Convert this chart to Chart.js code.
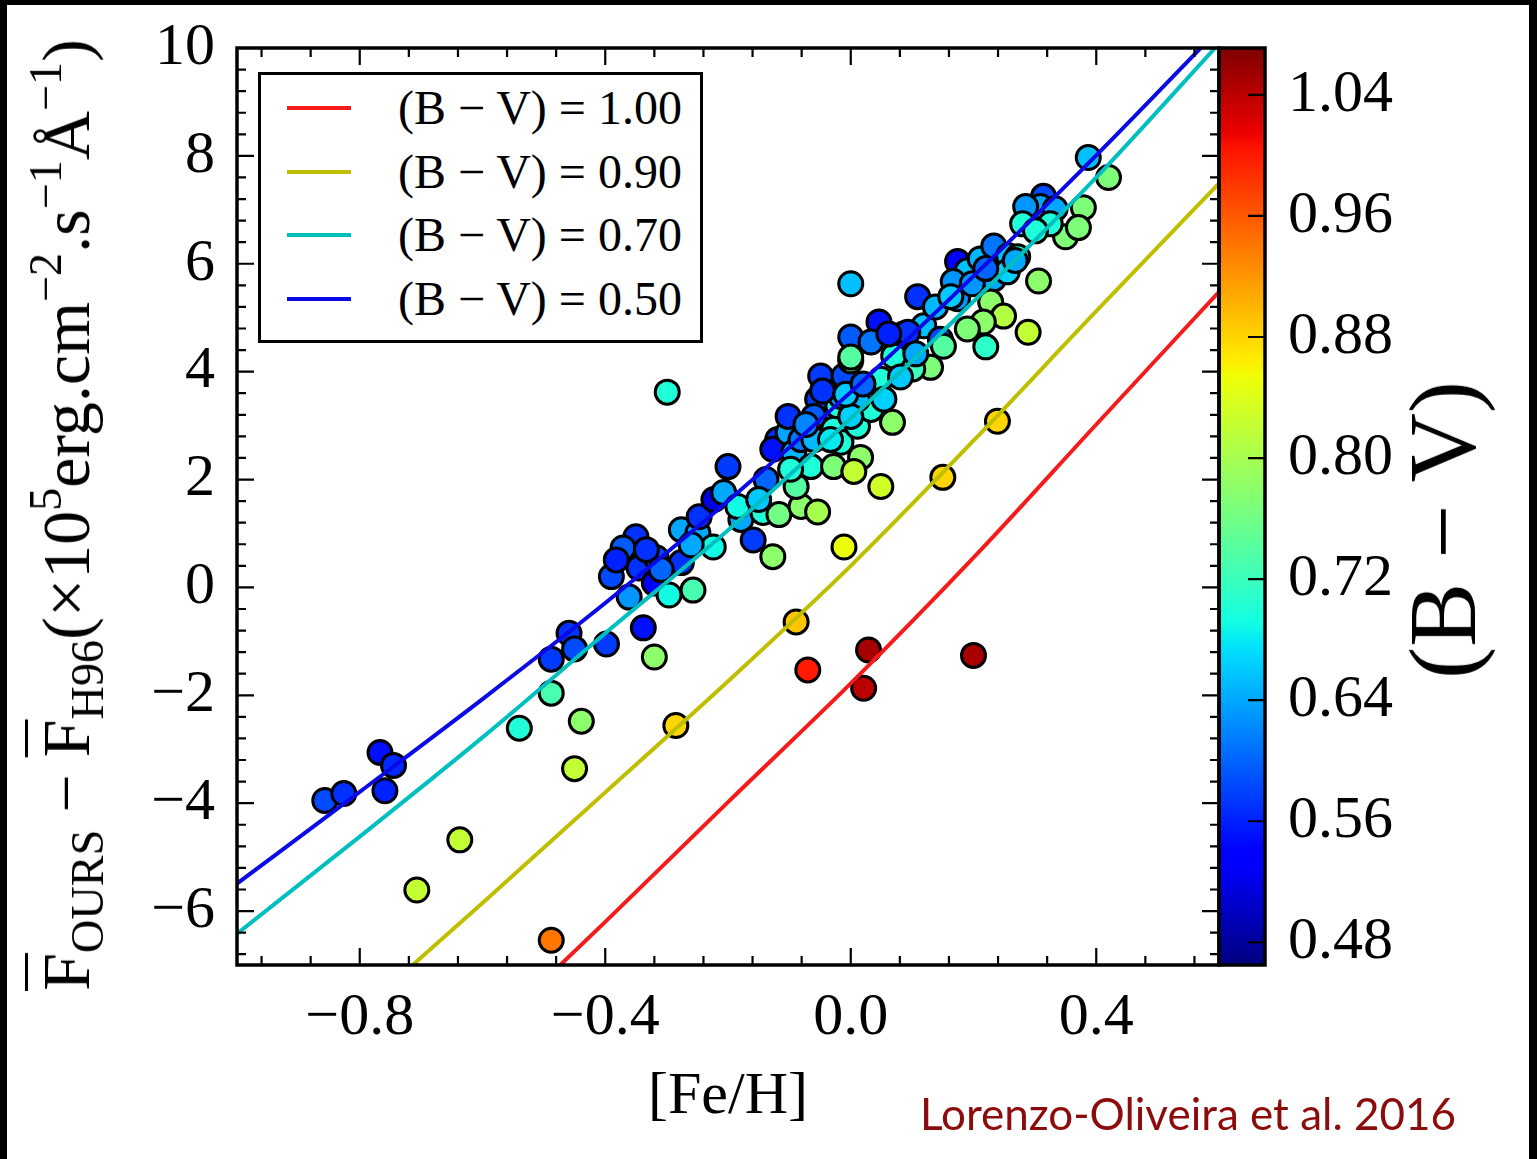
<!DOCTYPE html>
<html>
<head>
<meta charset="utf-8">
<script src="https://cdn.jsdelivr.net/npm/chart.js@4.4.1/dist/chart.umd.min.js"></script>
<style>
html,body{margin:0;padding:0;background:#000;overflow:hidden;}
#wrap{position:relative;width:1537px;height:1159px;background:#000;overflow:hidden;}
#panel{position:absolute;left:7px;top:5px;right:8px;bottom:0;background:#fff;}
#c{position:absolute;left:0;top:0;}
.serif{font-family:"Liberation Serif","Times New Roman",serif;color:#000;}
#ytitle{position:absolute;left:66px;top:515px;transform:translate(-50%,-50%) rotate(-90deg);font-size:68px;white-space:nowrap;line-height:1;}
#ytitle sub,#ytitle sup{font-size:0.68em;line-height:0;}
#ytitle sub{vertical-align:-0.3em;}
#ytitle sup{vertical-align:0.6em;}
.ov{text-decoration:overline;text-decoration-thickness:2.5px;}
#cbtitle{position:absolute;left:1443px;top:530px;transform:translate(-50%,-50%) rotate(-90deg);font-size:96px;white-space:nowrap;line-height:1;}
#legend{position:absolute;left:258px;top:72px;width:445px;height:271px;box-sizing:border-box;border:3px solid #000;background:#fff;}
.lrow{position:absolute;left:0;height:0;width:100%;}
.lline{position:absolute;left:26px;width:64px;height:4px;top:-2px;}
.ltext{position:absolute;left:137px;top:0;font-size:48px;line-height:1;white-space:nowrap;transform:translateY(-50%);}
#credit{position:absolute;left:920px;top:1113px;transform:translateY(-50%);font-family:Lato,"Open Sans",sans-serif;font-size:44px;color:#8c0b0b;white-space:nowrap;line-height:1;}
</style>
</head>
<body>
<div id="wrap">
  <div id="panel"></div>
  <canvas id="c" width="1537" height="1159"></canvas>
  <div id="ytitle" class="serif"><span class="ov">F</span><sub>OURS</sub> − <span class="ov">F</span><sub>H96</sub>(×10<sup>5</sup>erg.cm<sup>−2</sup>.s<sup>−1</sup>Å<sup>−1</sup>)</div>
  <div id="cbtitle" class="serif">(B − V)</div>
  <div id="legend" class="serif"></div>
  <div id="credit">Lorenzo-Oliveira et al. 2016</div>
</div>
<script>
// ---------------- data ----------------
const feH = [-0.857,-0.826,-0.767,-0.745,-0.759,-0.637,-0.707,-0.488,-0.540,-0.488,
-0.439,-0.450,-0.488,-0.459,-0.450,-0.398,-0.338,-0.320,-0.285,-0.350,
-0.371,-0.390,-0.361,-0.345,-0.317,-0.320,-0.296,-0.276,-0.299,-0.257,
-0.276,-0.249,-0.247,-0.224,-0.223,-0.200,-0.207,-0.179,-0.184,-0.159,
-0.143,-0.127,-0.117,-0.081,-0.054,-0.089,-0.119,-0.127,-0.102,-0.093,
-0.065,-0.081,-0.060,-0.041,-0.054,-0.060,-0.021,-0.049,-0.011,0.000,
-0.028,-0.016,-0.028,0.011,0.016,0.005,0.049,0.068,-0.011,-0.089,
0.029,-0.070,0.049,0.033,0.000,0.109,0.046,0.000,0.000,0.033,
0.076,0.086,0.119,0.146,0.138,0.174,0.190,0.211,0.233,0.257,
0.167,0.233,0.255,0.228,0.249,0.216,0.190,0.220,0.289,0.306,
0.350,0.151,0.130,0.101,0.070,-0.102,-0.016,0.011,0.054,0.000,
0.150,0.239,0.387,0.420,0.379,0.371,0.314,0.309,0.285,0.280,
0.272,0.174,0.093,0.200,0.021,
-0.073,-0.046,-0.033,-0.008,0.020,-0.098,-0.138,-0.150,0.081,0.106,
0.062,0.163,0.198,0.220,0.268,0.333,0.325,0.301,-0.333,-0.309,
-0.260,-0.382];

const deltaF = [-3.95,-3.82,-3.06,-3.30,-3.77,-4.68,-5.61,-6.54,-2.61,-1.96,
-2.48,-3.36,-1.33,-0.85,-1.14,-1.05,-0.75,-1.29,-2.56,0.94,
0.73,0.20,-0.18,0.36,0.55,0.08,-0.14,1.07,3.62,-0.05,
0.46,1.01,1.31,0.75,1.63,2.24,1.76,1.26,1.50,0.88,
1.39,0.57,1.35,1.50,1.40,1.87,2.74,2.56,2.87,2.50,
2.24,2.74,2.74,3.30,3.49,3.17,3.36,3.92,3.92,4.20,
2.93,2.69,2.24,2.99,2.41,2.15,1.87,3.06,0.75,-0.64,
-1.16,-1.53,3.86,3.30,5.63,5.39,4.92,4.64,4.27,4.55,
4.42,4.70,4.85,4.60,5.20,6.04,5.87,6.09,6.33,6.15,
5.67,5.72,5.85,5.29,5.03,4.92,4.79,4.46,4.73,5.68,
6.50,4.47,4.08,4.05,4.29,3.17,3.54,3.49,3.49,3.17,
2.04,3.08,7.97,7.60,7.04,6.67,7.25,7.06,7.06,6.74,
6.13,5.35,4.73,-1.26,-1.87,
3.02,3.64,2.74,3.58,3.77,2.19,2.00,1.63,3.90,4.33,
4.70,5.39,5.63,5.91,6.06,7.02,6.74,6.61,0.70,0.33,
0.79,0.51];

const bvColor = [0.585,0.57,0.55,0.565,0.56,0.82,0.82,0.94,0.70,0.73,
0.78,0.82,0.575,0.57,0.585,0.575,0.55,0.78,0.88,0.57,
0.595,0.585,0.63,0.57,0.585,0.54,0.69,0.64,0.70,0.73,
0.57,0.64,0.57,0.69,0.52,0.575,0.64,0.64,0.69,0.575,
0.70,0.78,0.76,0.78,0.80,0.74,0.57,0.55,0.64,0.65,
0.70,0.61,0.65,0.64,0.575,0.595,0.70,0.575,0.585,0.76,
0.70,0.70,0.77,0.70,0.78,0.82,0.83,0.78,0.85,0.89,
1.05,1.00,0.70,0.70,0.655,0.57,0.55,0.595,0.74,0.61,
0.575,0.57,0.655,0.585,0.65,0.54,0.655,0.65,0.61,0.655,
0.63,0.64,0.665,0.78,0.81,0.78,0.77,0.71,0.82,0.78,
0.77,0.74,0.77,0.72,0.70,0.57,0.63,0.65,0.665,0.665,
0.88,0.88,0.655,0.77,0.77,0.77,0.585,0.64,0.63,0.70,
0.70,0.63,0.57,1.05,1.04,
0.62,0.57,0.68,0.66,0.60,0.70,0.60,0.66,0.66,0.64,
0.56,0.66,0.63,0.60,0.64,0.64,0.70,0.70,0.57,0.60,
0.64,0.56];

// model curves read at these [Fe/H] values
const curveFeH   = [-1.0,-0.8,-0.6,-0.4,-0.2,0.0,0.2,0.4,0.6];
const curveBV100 = [null,null,-8.38,-6.20,-3.98,-1.78,0.55,3.02,5.48];
const curveBV090 = [null,-7.87,-5.85,-3.80,-1.74,0.40,2.72,5.12,7.49];
const curveBV070 = [-6.42,-4.62,-2.78,-0.85,1.06,3.13,5.30,7.60,10.08];
const curveBV050 = [-5.49,-3.79,-2.07,-0.29,1.60,3.62,5.77,8.01,10.35];
const curveLabels = ['(B − V) = 1.00','(B − V) = 0.90','(B − V) = 0.70','(B − V) = 0.50'];

// axes / ticks
const xMajorTicks = [-0.8,-0.4,0.0,0.4];
const xMinorTicks = [-0.96,-0.88,-0.72,-0.64,-0.56,-0.48,-0.32,-0.24,-0.16,-0.08,0.08,0.16,0.24,0.32,0.48,0.56];
const yMajorTicks = [-6,-4,-2,0,2,4,6,8,10];
const yMinorTicks = [-6.8,-6.4,-5.6,-5.2,-4.8,-4.4,-3.6,-3.2,-2.8,-2.4,-1.6,-1.2,-0.8,-0.4,0.4,0.8,1.2,1.6,2.4,2.8,3.2,3.6,4.4,4.8,5.2,5.6,6.4,6.8,7.2,7.6,8.4,8.8,9.2,9.6];
const cbTicks = [0.48,0.56,0.64,0.72,0.80,0.88,0.96,1.04];
const cbMin = 0.465, cbMax = 1.071;
const xTitle = '[Fe/H]';

// ---------------- styling helpers ----------------
const jetR=[[0,0],[0.35,0],[0.66,1],[0.89,1],[1,0.5]];
const jetG=[[0,0],[0.125,0],[0.375,1],[0.64,1],[0.91,0],[1,0]];
const jetB=[[0,0.5],[0.11,1],[0.34,1],[0.65,0],[1,0]];
function seg(s,t){for(let i=1;i<s.length;i++){if(t<=s[i][0]){const a=s[i-1],b=s[i];return a[1]+(b[1]-a[1])*(t-a[0])/(b[0]-a[0]);}}return s[s.length-1][1];}
function jet(v){const t=Math.min(1,Math.max(0,(v-cbMin)/(cbMax-cbMin)));
  return 'rgb('+Math.round(255*seg(jetR,t))+','+Math.round(255*seg(jetG,t))+','+Math.round(255*seg(jetB,t))+')';}
const serif = "'Liberation Serif','Times New Roman',serif";
const minus = v => (v<0?'\u2212':'') ;
const fmtX = v => minus(v)+Math.abs(v).toFixed(1);
const fmtY = v => minus(v)+Math.abs(v).toFixed(0);
const fmtC = v => Math.abs(v).toFixed(2);

const lineColors = ['#f51b1b','#bfbf00','#00bfbf','#0a0ae6'];
const curves = [curveBV100,curveBV090,curveBV070,curveBV050];

const lineSets = curves.map((c,k)=>({
  type:'line', label:curveLabels[k],
  data: curveFeH.map((x,i)=>({x:x,y:c[i]})),
  borderColor:lineColors[k], backgroundColor:lineColors[k],
  borderWidth:4, pointRadius:0, fill:false,
  cubicInterpolationMode:'monotone', order:0
}));
const scatterSet = {
  type:'scatter', label:'stars',
  data: feH.map((x,i)=>({x:x,y:deltaF[i]})),
  backgroundColor: bvColor.map(jet),
  borderColor:'#000', borderWidth:3, pointRadius:12, order:1
};

const decor = {
  id:'decor',
  afterDatasetsDraw(chart){
    const {ctx, chartArea:a, scales} = chart;
    const x=scales.x, y=scales.y, cb=scales.cb;
    ctx.save();
    const cx0=a.right, cw=46;
    for(let py=Math.floor(cb.top); py<cb.bottom; py++){
      ctx.fillStyle = jet(cb.getValueForPixel(py+0.5));
      ctx.fillRect(cx0, py, cw, 1);
    }
    ctx.strokeStyle='#000';
    ctx.lineWidth=2.2;
    ctx.beginPath();
    cbTicks.forEach(v=>{const p=cb.getPixelForValue(v); ctx.moveTo(cx0+cw,p); ctx.lineTo(cx0+cw-17,p);});
    const tk=(vals,len)=>{
      vals.forEach(v=>{const p=x.getPixelForValue(v);
        ctx.moveTo(p,a.bottom); ctx.lineTo(p,a.bottom-len);
        ctx.moveTo(p,a.top); ctx.lineTo(p,a.top+len);});
    };
    const tky=(vals,len)=>{
      vals.forEach(v=>{const p=y.getPixelForValue(v);
        ctx.moveTo(a.left,p); ctx.lineTo(a.left+len,p);
        ctx.moveTo(a.right,p); ctx.lineTo(a.right-len,p);});
    };
    tk(xMajorTicks,17); tk(xMinorTicks,9);
    tky(yMajorTicks,17); tky(yMinorTicks,9);
    ctx.stroke();
    ctx.lineWidth=3.5;
    ctx.strokeRect(a.left, a.top, a.right-a.left, a.bottom-a.top);
    ctx.strokeRect(cx0, cb.top, cw, cb.bottom-cb.top);
    ctx.restore();
  }
};

const noPad = s => { s.paddingTop=0; s.paddingBottom=0; s.paddingLeft=0; s.paddingRight=0; };
const tickFont = {family:serif, size:60};
const chart = new Chart(document.getElementById('c'), {
  data:{datasets:[...lineSets, scatterSet]},
  options:{
    responsive:false, animation:false, events:[],
    layout:{padding:{top:48,left:0,right:0,bottom:0}},
    plugins:{legend:{display:false}, tooltip:{enabled:false}},
    scales:{
      x:{type:'linear', position:'bottom', min:-1.0, max:0.6,
        afterBuildTicks:s=>{s.ticks=xMajorTicks.map(v=>({value:v}));},
        afterFit:s=>{s.height=194; noPad(s);},
        grid:{display:false, drawTicks:false}, border:{display:false},
        ticks:{font:tickFont, color:'#000', padding:17, maxRotation:0, autoSkip:false, callback:v=>fmtX(v)},
        title:{display:true, text:xTitle, font:{family:serif,size:60}, color:'#000', padding:{top:0,bottom:26}}
      },
      y:{type:'linear', position:'left', min:-7, max:10,
        afterBuildTicks:s=>{s.ticks=yMajorTicks.map(v=>({value:v}));},
        afterFit:s=>{s.width=237; noPad(s);},
        grid:{display:false, drawTicks:false}, border:{display:false},
        ticks:{font:tickFont, color:'#000', padding:22, autoSkip:false, callback:v=>fmtY(v)}
      },
      cb:{type:'linear', axis:'y', position:'right', min:cbMin, max:cbMax,
        afterBuildTicks:s=>{s.ticks=cbTicks.map(v=>({value:v}));},
        afterFit:s=>{s.width=318; noPad(s);},
        grid:{display:false, drawTicks:false}, border:{display:false},
        ticks:{font:tickFont, color:'#000', padding:69, autoSkip:false, callback:v=>fmtC(v)}
      }
    }
  },
  plugins:[decor]
});

const legendEl = document.getElementById('legend');
chart.data.datasets.filter(d=>d.type==='line').forEach((d,i)=>{
  const row=document.createElement('div'); row.className='lrow'; row.style.top=(33+i*63.5)+'px';
  const ln=document.createElement('div'); ln.className='lline'; ln.style.background=d.borderColor;
  const tx=document.createElement('div'); tx.className='ltext'; tx.textContent=d.label;
  row.appendChild(ln); row.appendChild(tx); legendEl.appendChild(row);
});
</script>
</body>
</html>
